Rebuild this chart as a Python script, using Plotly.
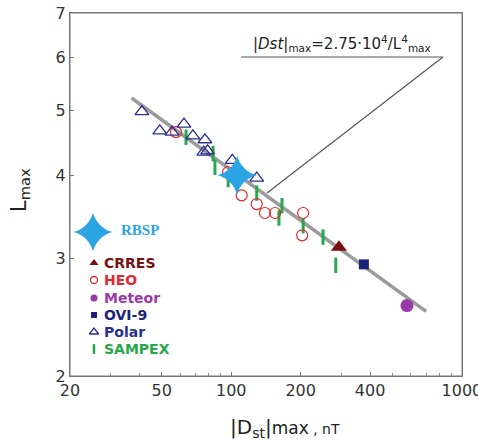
import plotly.graph_objects as go
import numpy as np

# ---------------- data ----------------
fit_dst = [37, 700]
fit_L = [5.22, 2.50]

polar_dst = [41, 49, 55.4, 62.4, 68.2, 76.9, 76, 79, 101, 129]
polar_L = [4.98, 4.66, 4.64, 4.77, 4.58, 4.52, 4.33, 4.35, 4.21, 3.96]

heo_dst = [57.6, 96.8, 111, 129, 140, 155, 205, 203]
heo_L = [4.64, 4.04, 3.73, 3.62, 3.51, 3.51, 3.51, 3.25]

sampex_dst = [63.7, 83.4, 85, 97, 129, 166, 161, 205, 250, 284]
sampex_L = [4.56, 4.31, 4.11, 3.94, 3.76, 3.60, 3.45, 3.36, 3.23, 2.93]

crres_dst = [293]
crres_L = [3.12]
ovi_dst = [376]
ovi_L = [2.94]
meteor_dst = [578]
meteor_L = [2.55]
rbsp_dst = [106]
rbsp_L = [4.0]

x_ticks = [20, 50, 100, 200, 400, 1000]
x_minor = [30, 40, 60, 70, 80, 90, 300, 500, 600, 700, 800, 900]
y_ticks = [2, 3, 4, 5, 6, 7]

legend_names = ["CRRES", "HEO", "Meteor", "OVI-9", "Polar", "SAMPEX"]

# ---------------- styles ----------------
C_CRRES = "#7a0f12"
C_HEO = "#e3282d"
C_METEOR = "#9a3aa8"
C_OVI = "#1c2378"
C_POLAR = "#2a2f8e"
C_SAMPEX = "#25a84a"
C_RBSP = "#2ba4e4"

W, H = 478, 441
L_, R_, T_, B_ = 70, 16, 13, 65
PW, PH = W - L_ - R_, H - T_ - B_


def px(x):
    return (x - L_) / PW


def py(y):
    return (H - B_ - y) / PH


fig = go.Figure()

fig.add_trace(go.Scatter(x=fit_dst, y=fit_L, mode="lines",
                         line=dict(color="#9b9b9b", width=3.5), hoverinfo="skip"))
fig.add_trace(go.Scatter(x=sampex_dst, y=sampex_L, mode="markers",
                         marker=dict(symbol="line-ns", size=11,
                                     line=dict(color=C_SAMPEX, width=3))))
fig.add_trace(go.Scatter(x=heo_dst, y=heo_L, mode="markers",
                         marker=dict(symbol="circle-open", size=11,
                                     color=C_HEO, line=dict(color=C_HEO, width=1.2))))
fig.add_trace(go.Scatter(x=polar_dst, y=polar_L, mode="markers",
                         marker=dict(symbol="triangle-up-open", size=12,
                                     color=C_POLAR, line=dict(color=C_POLAR, width=1.3))))
fig.add_trace(go.Scatter(x=crres_dst, y=crres_L, mode="markers",
                         marker=dict(symbol="triangle-up", size=14, color=C_CRRES)))
fig.add_trace(go.Scatter(x=ovi_dst, y=ovi_L, mode="markers",
                         marker=dict(symbol="square", size=10, color=C_OVI)))
fig.add_trace(go.Scatter(x=meteor_dst, y=meteor_L, mode="markers",
                         marker=dict(symbol="circle", size=13, color=C_METEOR)))
fig.add_trace(go.Scatter(x=rbsp_dst, y=rbsp_L, mode="markers",
                         marker=dict(symbol="star-diamond", size=28, color=C_RBSP,
                                     line=dict(width=0))))

# ---------------- custom legend (overlay axes 0..1) ----------------
leg_colors = [C_CRRES, C_HEO, C_METEOR, C_OVI, C_POLAR, C_SAMPEX]
leg_rows = [263, 280, 298, 315, 332, 349]
leg_markers = [
    dict(symbol="triangle-up", size=8, color=C_CRRES),
    dict(symbol="circle-open", size=7, color=C_HEO, line=dict(color=C_HEO, width=1.3)),
    dict(symbol="circle", size=7, color=C_METEOR),
    dict(symbol="square", size=6, color=C_OVI),
    dict(symbol="triangle-up-open", size=8, color=C_POLAR, line=dict(color=C_POLAR, width=1.3)),
    dict(symbol="line-ns", size=7, line=dict(color=C_SAMPEX, width=2.5)),
]
for m, r in zip(leg_markers, leg_rows):
    fig.add_trace(go.Scatter(x=[px(94)], y=[py(r)], mode="markers", marker=m,
                             xaxis="x2", yaxis="y2", hoverinfo="skip"))
fig.add_trace(go.Scatter(x=[px(93)], y=[py(232)], mode="markers",
                         marker=dict(symbol="star-diamond", size=28, color=C_RBSP,
                                     line=dict(width=0)),
                         xaxis="x2", yaxis="y2", hoverinfo="skip"))

annotations = []
for name, col, r in zip(legend_names, leg_colors, leg_rows):
    annotations.append(dict(x=px(102), y=py(r), xref="paper", yref="paper",
                            text="<b>%s</b>" % name, showarrow=False,
                            xanchor="left", yanchor="middle",
                            font=dict(family="DejaVu Sans", size=14, color=col)))
annotations.append(dict(x=px(119), y=py(230), xref="paper", yref="paper",
                        text="<b>RBSP</b>", showarrow=False, xanchor="left",
                        yanchor="middle",
                        font=dict(family="Liberation Serif", size=15, color=C_RBSP)))

# formula annotation
annotations.append(dict(x=px(342), y=py(44), xref="paper", yref="paper",
                        text="|<i>Dst</i>|<sub>max</sub>=2.75·10<sup>4</sup>/L<sup>4</sup><sub>max</sub>",
                        showarrow=False, xanchor="center", yanchor="middle",
                        font=dict(family="DejaVu Sans", size=15, color="#222")))
# axis titles
annotations.append(dict(x=px(20), y=py(190), xref="paper", yref="paper",
                        text="L<sub>max</sub>", showarrow=False, textangle=-90,
                        xanchor="center", yanchor="middle",
                        font=dict(family="DejaVu Sans", size=21, color="#222")))
annotations.append(dict(x=px(285), y=py(428), xref="paper", yref="paper",
                        text="|D<sub>st</sub>|<span style='font-size:17px'>max</span><span style='font-size:14px'> , nT</span>",
                        showarrow=False, xanchor="center", yanchor="middle",
                        font=dict(family="DejaVu Sans", size=20, color="#222")))

shapes = [
    dict(type="rect", xref="paper", yref="paper", x0=0, y0=0, x1=1, y1=1,
         line=dict(color="#777", width=1), fillcolor="rgba(0,0,0,0)", layer="above"),
    dict(type="line", xref="paper", yref="paper", x0=px(267), y0=py(193),
         x1=px(443), y1=py(57), line=dict(color="#555", width=1.2)),
    dict(type="line", xref="paper", yref="paper", x0=px(241), y0=py(57),
         x1=px(443), y1=py(57), line=dict(color="#555", width=1.2)),
]

tickfont = dict(family="DejaVu Sans", size=16, color="#333")
fig.update_layout(
    width=W, height=H,
    margin=dict(l=L_, r=R_, t=T_, b=B_, autoexpand=False),
    paper_bgcolor="white", plot_bgcolor="white",
    showlegend=False,
    xaxis=dict(type="log", range=[np.log10(20), np.log10(1000) + 0.0005],
               tickmode="array", tickvals=x_ticks, ticktext=[str(v) for v in x_ticks],
               ticks="inside", ticklen=4, tickcolor="#777", tickwidth=1,
               minor=dict(tickmode="array", tickvals=x_minor, ticks="inside",
                          ticklen=3, tickcolor="#888", tickwidth=1),
               ticklabeloverflow="allow",
               showgrid=False, zeroline=False, showline=True, linecolor="#777",
               linewidth=1, mirror=True, tickfont=tickfont, automargin=False),
    yaxis=dict(type="log", range=[np.log10(2), np.log10(7)],
               tickmode="array", tickvals=y_ticks, ticktext=[str(v) for v in y_ticks],
               ticks="inside", ticklen=4, tickcolor="#777", tickwidth=1,
               ticklabeloverflow="allow",
               showgrid=False, zeroline=False, showline=True, linecolor="#777",
               linewidth=1, mirror=True, tickfont=tickfont, automargin=False),
    xaxis2=dict(overlaying="x", range=[0, 1], visible=False, anchor="y2"),
    yaxis2=dict(overlaying="y", range=[0, 1], visible=False, anchor="x2"),
    annotations=annotations,
    shapes=shapes,
)

fig.write_html("out.html", config={"displayModeBar": False},
               post_script="document.body.style.margin='0';document.body.style.overflow='hidden';")
